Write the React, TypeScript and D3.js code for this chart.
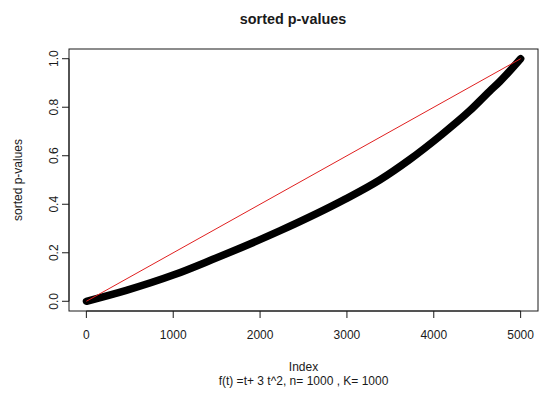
import React from "react";
import * as d3 from "d3";

// Sorted p-values sampled along the index axis
const sampleIndex = [1, 460, 1000, 1450, 2225, 2975, 3377, 3721, 4067, 4413, 4640, 4758, 5000];
const sortedP = [0.0, 0.045, 0.108, 0.172, 0.29, 0.42, 0.5, 0.584, 0.68, 0.785, 0.865, 0.905, 1.0];

// Uniform reference line endpoints
const refIndex = [0, 5000];
const refP = [0, 1];

const xTicks = [0, 1000, 2000, 3000, 4000, 5000];
const yTicks = [0, 0.2, 0.4, 0.6, 0.8, 1.0];

const chartTitle = "sorted p-values";
const xLabel = "Index";
const yLabel = "sorted p-values";
const subTitle = "f(t) =t+ 3 t^2, n= 1000 , K= 1000";

const W = 541;
const H = 394;
const box = { left: 69, right: 538, top: 49, bottom: 311 };

export default function App() {
  const x = d3.scaleLinear().domain([-200, 5200]).range([box.left, box.right]);
  const y = d3.scaleLinear().domain([-0.04, 1.04]).range([box.bottom, box.top]);

  const pts: [number, number][] = sampleIndex.map((v, i) => [v, sortedP[i]]);
  const curve = d3
    .line<[number, number]>()
    .x((d) => x(d[0]))
    .y((d) => y(d[1]))
    .curve(d3.curveMonotoneX)(pts) as string;

  const ref = d3
    .line<[number, number]>()
    .x((d) => x(d[0]))
    .y((d) => y(d[1]))(refIndex.map((v, i) => [v, refP[i]] as [number, number])) as string;

  const font = "'Liberation Sans', Arial, sans-serif";
  const ink = "#1a1a1a";
  const tick = 7;

  return (
    <svg
      width={W}
      height={H}
      style={{ position: "fixed", left: 0, top: 0, background: "#fff" }}
      fontFamily={font}
    >
      <rect x={0} y={0} width={W} height={H} fill="#fff" />
      <text x={293} y={23.5} textAnchor="middle" fontSize={14.4} fontWeight="bold" fill={ink}>
        {chartTitle}
      </text>

      {/* data band */}
      <path d={curve} fill="none" stroke="#000" strokeWidth={7.5} strokeLinecap="round" strokeLinejoin="round" />
      <path d={ref} fill="none" stroke="#e02020" strokeWidth={1} />

      {/* plot frame */}
      <rect
        x={box.left}
        y={box.top}
        width={box.right - box.left}
        height={box.bottom - box.top}
        fill="none"
        stroke={ink}
        strokeWidth={1}
      />

      {/* x axis */}
      <line x1={x(xTicks[0])} x2={x(xTicks[xTicks.length - 1])} y1={box.bottom} y2={box.bottom} stroke={ink} />
      {xTicks.map((t) => (
        <g key={`x${t}`}>
          <line x1={x(t)} x2={x(t)} y1={box.bottom} y2={box.bottom + tick} stroke={ink} />
          <text x={x(t)} y={339} textAnchor="middle" fontSize={12} fill={ink}>
            {t}
          </text>
        </g>
      ))}

      {/* y axis */}
      <line x1={box.left} x2={box.left} y1={y(yTicks[0])} y2={y(yTicks[yTicks.length - 1])} stroke={ink} />
      {yTicks.map((t) => (
        <g key={`y${t}`}>
          <line x1={box.left} x2={box.left - tick} y1={y(t)} y2={y(t)} stroke={ink} />
          <text
            transform={`translate(${58},${y(t)}) rotate(-90)`}
            textAnchor="middle"
            fontSize={12}
            fill={ink}
          >
            {t.toFixed(1)}
          </text>
        </g>
      ))}

      <text x={303.5} y={371} textAnchor="middle" fontSize={12} fill={ink}>
        {xLabel}
      </text>
      <text x={303.5} y={385} textAnchor="middle" fontSize={12} fill={ink}>
        {subTitle}
      </text>
      <text transform={`translate(21.5,180) rotate(-90)`} textAnchor="middle" fontSize={12} fill={ink}>
        {yLabel}
      </text>
    </svg>
  );
}
